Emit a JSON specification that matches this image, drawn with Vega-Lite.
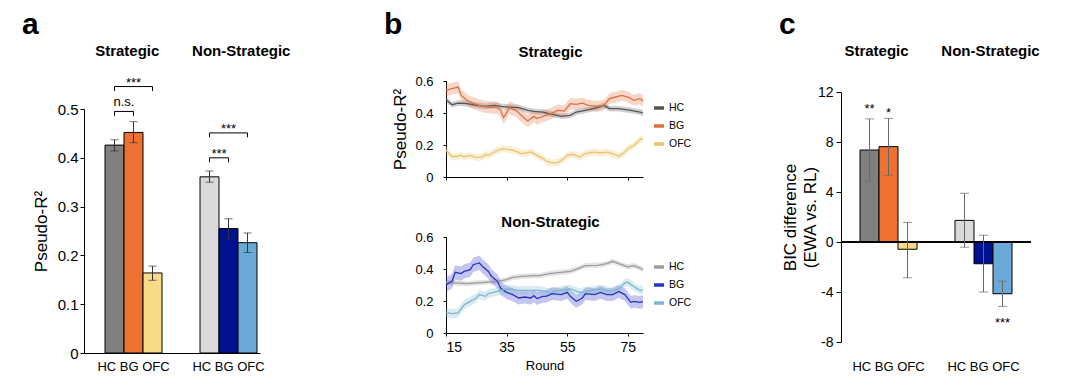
{
"$schema":"https://vega.github.io/schema/vega-lite/v6.json",
"autosize":{"type":"pad"},
"padding":{"left":22,"top":-1,"right":0,"bottom":0},
"background":"white",
"config":{
 "font":"Liberation Sans",
 "view":{"stroke":null},
 "axis":{"domainColor":"#000","tickColor":"#000","labelColor":"#000","titleColor":"#000","grid":false,"titleFontWeight":"normal","labelFont":"Liberation Sans","titleFont":"Liberation Sans","labelOverlap":false},
 "title":{"color":"#000","font":"Liberation Sans"},
 "legend":{"labelColor":"#000","labelFont":"Liberation Sans"},
 "text":{"font":"Liberation Sans","color":"#000"}
},
"datasets":{
 "barsA":[
  {"k":"S-HC","v":0.426,"lo":0.414,"hi":0.437},
  {"k":"S-BG","v":0.452,"lo":0.431,"hi":0.474},
  {"k":"S-OFC","v":0.164,"lo":0.149,"hi":0.178},
  {"k":"N-HC","v":0.361,"lo":0.350,"hi":0.373},
  {"k":"N-BG","v":0.255,"lo":0.234,"hi":0.275},
  {"k":"N-OFC","v":0.226,"lo":0.206,"hi":0.246}
 ],
 "barsC":[
  {"k":"S-HC","v":7.36,"lo":4.85,"hi":9.85},
  {"k":"S-BG","v":7.63,"lo":5.33,"hi":9.89},
  {"k":"S-OFC","v":-0.58,"lo":-2.86,"hi":1.57},
  {"k":"N-HC","v":1.73,"lo":-0.42,"hi":3.9},
  {"k":"N-BG","v":-1.74,"lo":-4.0,"hi":0.54},
  {"k":"N-OFC","v":-4.14,"lo":-5.15,"hi":-3.13}
 ],
 "bracketsA":[
  {"from":"S-HC","to":"S-OFC","top":0.546,"bot":0.537,"lab":"***","at":"S-BG","edge":false,"ly":0.546},
  {"from":"S-HC","to":"S-BG","top":0.495,"bot":0.486,"lab":"n.s.","at":"S-BG","edge":true,"ly":0.507},
  {"from":"N-HC","to":"N-OFC","top":0.451,"bot":0.442,"lab":"***","at":"N-BG","edge":false,"ly":0.451},
  {"from":"N-HC","to":"N-BG","top":0.400,"bot":0.391,"lab":"***","at":"N-BG","edge":true,"ly":0.400}
 ],
 "starsC":[
  {"k":"S-HC","lab":"**","ly":10.30},
  {"k":"S-BG","lab":"*","ly":9.98},
  {"k":"N-OFC","lab":"***","ly":-6.77}
 ],
 "headA":[{"at":"S-BG","lab":"Strategic"},{"at":"N-OFC","lab":"Non-Strategic"}],
 "headC":[{"at":"S-HC","lab":"Strategic"},{"at":"N-BG","lab":"Non-Strategic"}],
 "lines":[
  {"p":"S","s":"HC","r":15,"m":0.483,"lo":0.464,"hi":0.502},
  {"p":"S","s":"HC","r":17,"m":0.452,"lo":0.434,"hi":0.470},
  {"p":"S","s":"HC","r":19,"m":0.462,"lo":0.445,"hi":0.480},
  {"p":"S","s":"HC","r":22,"m":0.458,"lo":0.440,"hi":0.476},
  {"p":"S","s":"HC","r":25,"m":0.448,"lo":0.431,"hi":0.466},
  {"p":"S","s":"HC","r":28,"m":0.442,"lo":0.424,"hi":0.460},
  {"p":"S","s":"HC","r":31,"m":0.448,"lo":0.430,"hi":0.465},
  {"p":"S","s":"HC","r":33,"m":0.442,"lo":0.425,"hi":0.460},
  {"p":"S","s":"HC","r":36,"m":0.437,"lo":0.419,"hi":0.455},
  {"p":"S","s":"HC","r":39,"m":0.433,"lo":0.415,"hi":0.451},
  {"p":"S","s":"HC","r":42,"m":0.417,"lo":0.399,"hi":0.434},
  {"p":"S","s":"HC","r":44,"m":0.410,"lo":0.392,"hi":0.428},
  {"p":"S","s":"HC","r":47,"m":0.406,"lo":0.389,"hi":0.424},
  {"p":"S","s":"HC","r":49,"m":0.396,"lo":0.378,"hi":0.414},
  {"p":"S","s":"HC","r":53,"m":0.379,"lo":0.362,"hi":0.397},
  {"p":"S","s":"HC","r":56,"m":0.385,"lo":0.367,"hi":0.402},
  {"p":"S","s":"HC","r":58,"m":0.406,"lo":0.388,"hi":0.423},
  {"p":"S","s":"HC","r":61,"m":0.417,"lo":0.400,"hi":0.435},
  {"p":"S","s":"HC","r":65,"m":0.433,"lo":0.415,"hi":0.450},
  {"p":"S","s":"HC","r":67,"m":0.448,"lo":0.431,"hi":0.466},
  {"p":"S","s":"HC","r":69,"m":0.427,"lo":0.409,"hi":0.445},
  {"p":"S","s":"HC","r":72,"m":0.427,"lo":0.410,"hi":0.444},
  {"p":"S","s":"HC","r":76,"m":0.417,"lo":0.399,"hi":0.434},
  {"p":"S","s":"HC","r":79,"m":0.406,"lo":0.389,"hi":0.424},
  {"p":"S","s":"HC","r":80,"m":0.400,"lo":0.382,"hi":0.418},
  {"p":"S","s":"BG","r":15,"m":0.542,"lo":0.505,"hi":0.578},
  {"p":"S","s":"BG","r":17,"m":0.552,"lo":0.515,"hi":0.590},
  {"p":"S","s":"BG","r":19,"m":0.562,"lo":0.524,"hi":0.600},
  {"p":"S","s":"BG","r":20,"m":0.510,"lo":0.473,"hi":0.548},
  {"p":"S","s":"BG","r":22,"m":0.479,"lo":0.442,"hi":0.516},
  {"p":"S","s":"BG","r":23,"m":0.469,"lo":0.432,"hi":0.506},
  {"p":"S","s":"BG","r":25,"m":0.454,"lo":0.417,"hi":0.492},
  {"p":"S","s":"BG","r":27,"m":0.442,"lo":0.404,"hi":0.480},
  {"p":"S","s":"BG","r":29,"m":0.437,"lo":0.399,"hi":0.475},
  {"p":"S","s":"BG","r":32,"m":0.433,"lo":0.394,"hi":0.472},
  {"p":"S","s":"BG","r":33,"m":0.417,"lo":0.377,"hi":0.457},
  {"p":"S","s":"BG","r":34,"m":0.371,"lo":0.330,"hi":0.412},
  {"p":"S","s":"BG","r":36,"m":0.433,"lo":0.393,"hi":0.473},
  {"p":"S","s":"BG","r":38,"m":0.417,"lo":0.377,"hi":0.457},
  {"p":"S","s":"BG","r":39,"m":0.400,"lo":0.360,"hi":0.440},
  {"p":"S","s":"BG","r":41,"m":0.365,"lo":0.325,"hi":0.405},
  {"p":"S","s":"BG","r":42,"m":0.350,"lo":0.311,"hi":0.390},
  {"p":"S","s":"BG","r":44,"m":0.379,"lo":0.340,"hi":0.418},
  {"p":"S","s":"BG","r":45,"m":0.365,"lo":0.327,"hi":0.403},
  {"p":"S","s":"BG","r":47,"m":0.379,"lo":0.342,"hi":0.416},
  {"p":"S","s":"BG","r":48,"m":0.385,"lo":0.348,"hi":0.422},
  {"p":"S","s":"BG","r":50,"m":0.400,"lo":0.364,"hi":0.436},
  {"p":"S","s":"BG","r":52,"m":0.417,"lo":0.381,"hi":0.453},
  {"p":"S","s":"BG","r":54,"m":0.412,"lo":0.377,"hi":0.447},
  {"p":"S","s":"BG","r":56,"m":0.458,"lo":0.423,"hi":0.493},
  {"p":"S","s":"BG","r":58,"m":0.454,"lo":0.419,"hi":0.489},
  {"p":"S","s":"BG","r":60,"m":0.462,"lo":0.428,"hi":0.496},
  {"p":"S","s":"BG","r":62,"m":0.448,"lo":0.414,"hi":0.482},
  {"p":"S","s":"BG","r":65,"m":0.442,"lo":0.408,"hi":0.476},
  {"p":"S","s":"BG","r":67,"m":0.448,"lo":0.414,"hi":0.482},
  {"p":"S","s":"BG","r":69,"m":0.490,"lo":0.456,"hi":0.524},
  {"p":"S","s":"BG","r":71,"m":0.500,"lo":0.466,"hi":0.534},
  {"p":"S","s":"BG","r":73,"m":0.510,"lo":0.476,"hi":0.544},
  {"p":"S","s":"BG","r":75,"m":0.500,"lo":0.466,"hi":0.535},
  {"p":"S","s":"BG","r":77,"m":0.479,"lo":0.445,"hi":0.514},
  {"p":"S","s":"BG","r":79,"m":0.490,"lo":0.455,"hi":0.525},
  {"p":"S","s":"BG","r":80,"m":0.475,"lo":0.440,"hi":0.510},
  {"p":"S","s":"OFC","r":15,"m":0.170,"lo":0.147,"hi":0.193},
  {"p":"S","s":"OFC","r":17,"m":0.125,"lo":0.103,"hi":0.147},
  {"p":"S","s":"OFC","r":20,"m":0.135,"lo":0.113,"hi":0.157},
  {"p":"S","s":"OFC","r":21,"m":0.125,"lo":0.103,"hi":0.147},
  {"p":"S","s":"OFC","r":23,"m":0.135,"lo":0.113,"hi":0.157},
  {"p":"S","s":"OFC","r":25,"m":0.121,"lo":0.099,"hi":0.143},
  {"p":"S","s":"OFC","r":27,"m":0.125,"lo":0.103,"hi":0.147},
  {"p":"S","s":"OFC","r":28,"m":0.142,"lo":0.120,"hi":0.164},
  {"p":"S","s":"OFC","r":29,"m":0.135,"lo":0.113,"hi":0.157},
  {"p":"S","s":"OFC","r":32,"m":0.167,"lo":0.145,"hi":0.189},
  {"p":"S","s":"OFC","r":34,"m":0.177,"lo":0.155,"hi":0.199},
  {"p":"S","s":"OFC","r":36,"m":0.171,"lo":0.149,"hi":0.193},
  {"p":"S","s":"OFC","r":38,"m":0.162,"lo":0.140,"hi":0.184},
  {"p":"S","s":"OFC","r":40,"m":0.146,"lo":0.124,"hi":0.168},
  {"p":"S","s":"OFC","r":43,"m":0.156,"lo":0.134,"hi":0.178},
  {"p":"S","s":"OFC","r":45,"m":0.135,"lo":0.113,"hi":0.157},
  {"p":"S","s":"OFC","r":47,"m":0.115,"lo":0.093,"hi":0.137},
  {"p":"S","s":"OFC","r":48,"m":0.100,"lo":0.078,"hi":0.122},
  {"p":"S","s":"OFC","r":50,"m":0.088,"lo":0.066,"hi":0.110},
  {"p":"S","s":"OFC","r":52,"m":0.092,"lo":0.070,"hi":0.114},
  {"p":"S","s":"OFC","r":54,"m":0.115,"lo":0.093,"hi":0.137},
  {"p":"S","s":"OFC","r":55,"m":0.135,"lo":0.113,"hi":0.157},
  {"p":"S","s":"OFC","r":57,"m":0.142,"lo":0.120,"hi":0.164},
  {"p":"S","s":"OFC","r":59,"m":0.125,"lo":0.103,"hi":0.147},
  {"p":"S","s":"OFC","r":61,"m":0.146,"lo":0.124,"hi":0.168},
  {"p":"S","s":"OFC","r":64,"m":0.156,"lo":0.134,"hi":0.178},
  {"p":"S","s":"OFC","r":66,"m":0.150,"lo":0.128,"hi":0.172},
  {"p":"S","s":"OFC","r":68,"m":0.156,"lo":0.134,"hi":0.178},
  {"p":"S","s":"OFC","r":70,"m":0.146,"lo":0.124,"hi":0.168},
  {"p":"S","s":"OFC","r":72,"m":0.129,"lo":0.107,"hi":0.151},
  {"p":"S","s":"OFC","r":74,"m":0.156,"lo":0.134,"hi":0.178},
  {"p":"S","s":"OFC","r":75,"m":0.177,"lo":0.155,"hi":0.199},
  {"p":"S","s":"OFC","r":77,"m":0.198,"lo":0.176,"hi":0.220},
  {"p":"S","s":"OFC","r":79,"m":0.233,"lo":0.211,"hi":0.255},
  {"p":"S","s":"OFC","r":80,"m":0.240,"lo":0.218,"hi":0.262},
  {"p":"N","s":"HC","r":15,"m":0.317,"lo":0.301,"hi":0.333},
  {"p":"N","s":"HC","r":18,"m":0.313,"lo":0.297,"hi":0.329},
  {"p":"N","s":"HC","r":22,"m":0.308,"lo":0.292,"hi":0.324},
  {"p":"N","s":"HC","r":25,"m":0.313,"lo":0.297,"hi":0.329},
  {"p":"N","s":"HC","r":28,"m":0.317,"lo":0.301,"hi":0.333},
  {"p":"N","s":"HC","r":32,"m":0.323,"lo":0.307,"hi":0.339},
  {"p":"N","s":"HC","r":35,"m":0.333,"lo":0.317,"hi":0.349},
  {"p":"N","s":"HC","r":37,"m":0.348,"lo":0.332,"hi":0.364},
  {"p":"N","s":"HC","r":40,"m":0.354,"lo":0.338,"hi":0.370},
  {"p":"N","s":"HC","r":44,"m":0.358,"lo":0.342,"hi":0.374},
  {"p":"N","s":"HC","r":46,"m":0.358,"lo":0.342,"hi":0.374},
  {"p":"N","s":"HC","r":49,"m":0.371,"lo":0.355,"hi":0.387},
  {"p":"N","s":"HC","r":53,"m":0.379,"lo":0.363,"hi":0.395},
  {"p":"N","s":"HC","r":56,"m":0.385,"lo":0.369,"hi":0.401},
  {"p":"N","s":"HC","r":59,"m":0.406,"lo":0.390,"hi":0.422},
  {"p":"N","s":"HC","r":61,"m":0.421,"lo":0.405,"hi":0.437},
  {"p":"N","s":"HC","r":65,"m":0.423,"lo":0.407,"hi":0.439},
  {"p":"N","s":"HC","r":68,"m":0.433,"lo":0.417,"hi":0.449},
  {"p":"N","s":"HC","r":70,"m":0.448,"lo":0.432,"hi":0.464},
  {"p":"N","s":"HC","r":72,"m":0.433,"lo":0.417,"hi":0.449},
  {"p":"N","s":"HC","r":75,"m":0.413,"lo":0.397,"hi":0.429},
  {"p":"N","s":"HC","r":77,"m":0.421,"lo":0.405,"hi":0.437},
  {"p":"N","s":"HC","r":79,"m":0.406,"lo":0.390,"hi":0.422},
  {"p":"N","s":"HC","r":80,"m":0.396,"lo":0.380,"hi":0.412},
  {"p":"N","s":"BG","r":15,"m":0.302,"lo":0.257,"hi":0.347},
  {"p":"N","s":"BG","r":17,"m":0.323,"lo":0.278,"hi":0.368},
  {"p":"N","s":"BG","r":18,"m":0.379,"lo":0.334,"hi":0.424},
  {"p":"N","s":"BG","r":20,"m":0.371,"lo":0.326,"hi":0.416},
  {"p":"N","s":"BG","r":21,"m":0.385,"lo":0.340,"hi":0.430},
  {"p":"N","s":"BG","r":23,"m":0.396,"lo":0.351,"hi":0.441},
  {"p":"N","s":"BG","r":24,"m":0.427,"lo":0.382,"hi":0.472},
  {"p":"N","s":"BG","r":26,"m":0.438,"lo":0.393,"hi":0.483},
  {"p":"N","s":"BG","r":27,"m":0.417,"lo":0.372,"hi":0.462},
  {"p":"N","s":"BG","r":29,"m":0.385,"lo":0.340,"hi":0.430},
  {"p":"N","s":"BG","r":30,"m":0.354,"lo":0.309,"hi":0.399},
  {"p":"N","s":"BG","r":32,"m":0.323,"lo":0.279,"hi":0.367},
  {"p":"N","s":"BG","r":33,"m":0.281,"lo":0.238,"hi":0.324},
  {"p":"N","s":"BG","r":35,"m":0.254,"lo":0.212,"hi":0.296},
  {"p":"N","s":"BG","r":37,"m":0.240,"lo":0.198,"hi":0.282},
  {"p":"N","s":"BG","r":39,"m":0.219,"lo":0.178,"hi":0.260},
  {"p":"N","s":"BG","r":41,"m":0.225,"lo":0.184,"hi":0.266},
  {"p":"N","s":"BG","r":43,"m":0.219,"lo":0.178,"hi":0.260},
  {"p":"N","s":"BG","r":44,"m":0.233,"lo":0.192,"hi":0.274},
  {"p":"N","s":"BG","r":45,"m":0.215,"lo":0.175,"hi":0.255},
  {"p":"N","s":"BG","r":47,"m":0.229,"lo":0.189,"hi":0.269},
  {"p":"N","s":"BG","r":48,"m":0.229,"lo":0.189,"hi":0.269},
  {"p":"N","s":"BG","r":50,"m":0.246,"lo":0.206,"hi":0.286},
  {"p":"N","s":"BG","r":53,"m":0.240,"lo":0.200,"hi":0.280},
  {"p":"N","s":"BG","r":55,"m":0.254,"lo":0.214,"hi":0.294},
  {"p":"N","s":"BG","r":56,"m":0.229,"lo":0.189,"hi":0.269},
  {"p":"N","s":"BG","r":58,"m":0.198,"lo":0.158,"hi":0.238},
  {"p":"N","s":"BG","r":60,"m":0.219,"lo":0.179,"hi":0.259},
  {"p":"N","s":"BG","r":61,"m":0.246,"lo":0.206,"hi":0.286},
  {"p":"N","s":"BG","r":64,"m":0.240,"lo":0.200,"hi":0.280},
  {"p":"N","s":"BG","r":66,"m":0.254,"lo":0.214,"hi":0.294},
  {"p":"N","s":"BG","r":68,"m":0.240,"lo":0.200,"hi":0.280},
  {"p":"N","s":"BG","r":70,"m":0.240,"lo":0.200,"hi":0.280},
  {"p":"N","s":"BG","r":72,"m":0.260,"lo":0.220,"hi":0.300},
  {"p":"N","s":"BG","r":74,"m":0.240,"lo":0.200,"hi":0.280},
  {"p":"N","s":"BG","r":76,"m":0.192,"lo":0.152,"hi":0.232},
  {"p":"N","s":"BG","r":77,"m":0.198,"lo":0.158,"hi":0.238},
  {"p":"N","s":"BG","r":79,"m":0.192,"lo":0.152,"hi":0.232},
  {"p":"N","s":"BG","r":80,"m":0.196,"lo":0.156,"hi":0.236},
  {"p":"N","s":"OFC","r":15,"m":0.129,"lo":0.100,"hi":0.158},
  {"p":"N","s":"OFC","r":17,"m":0.121,"lo":0.092,"hi":0.150},
  {"p":"N","s":"OFC","r":19,"m":0.125,"lo":0.096,"hi":0.154},
  {"p":"N","s":"OFC","r":21,"m":0.177,"lo":0.148,"hi":0.206},
  {"p":"N","s":"OFC","r":23,"m":0.198,"lo":0.170,"hi":0.226},
  {"p":"N","s":"OFC","r":25,"m":0.219,"lo":0.191,"hi":0.247},
  {"p":"N","s":"OFC","r":26,"m":0.240,"lo":0.212,"hi":0.268},
  {"p":"N","s":"OFC","r":28,"m":0.229,"lo":0.201,"hi":0.257},
  {"p":"N","s":"OFC","r":29,"m":0.246,"lo":0.218,"hi":0.274},
  {"p":"N","s":"OFC","r":32,"m":0.260,"lo":0.234,"hi":0.286},
  {"p":"N","s":"OFC","r":34,"m":0.271,"lo":0.245,"hi":0.297},
  {"p":"N","s":"OFC","r":36,"m":0.275,"lo":0.249,"hi":0.301},
  {"p":"N","s":"OFC","r":39,"m":0.267,"lo":0.241,"hi":0.293},
  {"p":"N","s":"OFC","r":43,"m":0.267,"lo":0.241,"hi":0.293},
  {"p":"N","s":"OFC","r":46,"m":0.267,"lo":0.241,"hi":0.293},
  {"p":"N","s":"OFC","r":49,"m":0.254,"lo":0.228,"hi":0.280},
  {"p":"N","s":"OFC","r":53,"m":0.267,"lo":0.241,"hi":0.293},
  {"p":"N","s":"OFC","r":56,"m":0.275,"lo":0.249,"hi":0.301},
  {"p":"N","s":"OFC","r":59,"m":0.254,"lo":0.228,"hi":0.280},
  {"p":"N","s":"OFC","r":63,"m":0.267,"lo":0.241,"hi":0.293},
  {"p":"N","s":"OFC","r":66,"m":0.275,"lo":0.249,"hi":0.301},
  {"p":"N","s":"OFC","r":69,"m":0.260,"lo":0.234,"hi":0.286},
  {"p":"N","s":"OFC","r":72,"m":0.275,"lo":0.249,"hi":0.301},
  {"p":"N","s":"OFC","r":74,"m":0.313,"lo":0.287,"hi":0.339},
  {"p":"N","s":"OFC","r":75,"m":0.317,"lo":0.291,"hi":0.343},
  {"p":"N","s":"OFC","r":77,"m":0.290,"lo":0.264,"hi":0.316},
  {"p":"N","s":"OFC","r":79,"m":0.267,"lo":0.241,"hi":0.293},
  {"p":"N","s":"OFC","r":80,"m":0.270,"lo":0.244,"hi":0.296}
 ]
},
"bounds":"flush",
"spacing":362,
"resolve":{"scale":{"x":"independent","y":"independent","color":"independent"},"legend":{"color":"independent"}},
"hconcat":[
 {
  "bounds":"flush","spacing":0,
  "resolve":{"scale":{"x":"independent","y":"independent","color":"independent"},"legend":{"color":"independent"}},
  "vconcat":[
   {"width":176,"height":110,"data":{"values":[{"z":1}]},"mark":{"type":"rect","opacity":0},
    "title":{"text":"a","anchor":"start","frame":"group","dx":-62,"offset":-65,"fontSize":30,"fontWeight":"bold","baseline":"alphabetic"}},
   {"width":176,"height":244,
    "layer":[
     {"data":{"name":"barsA"},"mark":{"type":"bar","stroke":"#000","strokeWidth":1},
      "encoding":{
       "x":{"field":"k","type":"nominal","title":null,"scale":{"domain":["S-HC","S-BG","S-OFC","g1","g2","N-HC","N-BG","N-OFC"],"paddingInner":0,"paddingOuter":0.632,"align":0.875},
            "axis":{"values":["S-BG","N-BG"],"labelExpr":"'HC BG OFC'","ticks":false,"tickSize":0,"labelPadding":7,"labelFontSize":13,"labelAngle":0,"domain":true}},
       "y":{"field":"v","type":"quantitative","title":"Pseudo-R²","scale":{"domain":[0,0.5],"nice":false},
            "axis":{"values":[0,0.1,0.2,0.3,0.4,0.5],"labelExpr":"datum.value + ''","labelFontSize":15,"tickSize":4,"labelPadding":2,"titleFontSize":17,"titlePadding":7}},
       "color":{"field":"k","type":"nominal","scale":{"domain":["S-HC","S-BG","S-OFC","N-HC","N-BG","N-OFC"],"range":["#808080","#ED7131","#F9DA88","#D9D9D9","#00118F","#6AA9D5"]},"legend":null}}},
     {"data":{"name":"barsA"},"mark":{"type":"rule","color":"#333","strokeWidth":1},
      "encoding":{"x":{"field":"k","type":"nominal","title":null},"y":{"field":"lo","type":"quantitative","title":"Pseudo-R²"},"y2":{"field":"hi"}}},
     {"data":{"name":"barsA"},"mark":{"type":"tick","color":"#333","size":8,"thickness":1},
      "encoding":{"x":{"field":"k","type":"nominal","title":null},"y":{"field":"lo","type":"quantitative","title":"Pseudo-R²"}}},
     {"data":{"name":"barsA"},"mark":{"type":"tick","color":"#333","size":8,"thickness":1},
      "encoding":{"x":{"field":"k","type":"nominal","title":null},"y":{"field":"hi","type":"quantitative","title":"Pseudo-R²"}}},
     {"data":{"name":"bracketsA"},"mark":{"type":"rule","color":"#000","strokeWidth":1},
      "encoding":{"x":{"field":"from","type":"nominal","title":null,"bandPosition":0.5},"x2":{"field":"to","bandPosition":0.5},"y":{"field":"top","type":"quantitative","title":"Pseudo-R²"}}},
     {"data":{"name":"bracketsA"},"mark":{"type":"rule","color":"#000","strokeWidth":1},
      "encoding":{"x":{"field":"from","type":"nominal","title":null,"bandPosition":0.5},"y":{"field":"top","type":"quantitative","title":"Pseudo-R²"},"y2":{"field":"bot"}}},
     {"data":{"name":"bracketsA"},"mark":{"type":"rule","color":"#000","strokeWidth":1},
      "encoding":{"x":{"field":"to","type":"nominal","title":null,"bandPosition":0.5},"y":{"field":"top","type":"quantitative","title":"Pseudo-R²"},"y2":{"field":"bot"}}},
     {"data":{"name":"bracketsA"},"transform":[{"filter":"!datum.edge"}],"mark":{"type":"text","fontSize":13,"baseline":"alphabetic"},
      "encoding":{"x":{"field":"at","type":"nominal","title":null,"bandPosition":0.5},"y":{"field":"ly","type":"quantitative","title":"Pseudo-R²"},"text":{"field":"lab"}}},
     {"data":{"name":"bracketsA"},"transform":[{"filter":"datum.edge"}],"mark":{"type":"text","fontSize":13,"baseline":"alphabetic"},
      "encoding":{"x":{"field":"at","type":"nominal","title":null,"bandPosition":0},"y":{"field":"ly","type":"quantitative","title":"Pseudo-R²"},"text":{"field":"lab"}}},
     {"data":{"name":"headA"},"mark":{"type":"text","fontSize":15,"fontWeight":"bold","baseline":"alphabetic"},
      "encoding":{"x":{"field":"at","type":"nominal","title":null,"bandPosition":0.17},"y":{"datum":0.6086,"type":"quantitative"},"text":{"field":"lab"}}}
    ]}
  ]
 },
 {
  "bounds":"flush","spacing":395,
  "resolve":{"scale":{"x":"independent","y":"independent","color":"independent"},"legend":{"color":"independent"}},
  "hconcat":[
   {
    "bounds":"flush","spacing":60,
    "resolve":{"scale":{"x":"independent","y":"independent","color":"independent"},"legend":{"color":"independent"}},
    "vconcat":[
     {"width":197,"height":22,"data":{"values":[{"z":1}]},"mark":{"type":"rect","opacity":0},
      "title":{"text":"b","anchor":"start","frame":"group","dx":-62,"offset":-65,"fontSize":30,"fontWeight":"bold","baseline":"alphabetic"}},
     {"width":197,"height":96,
      "data":{"name":"lines"},
      "transform":[{"filter":"datum.p == 'S'"}],
      "title":{"text":"Strategic","anchor":"middle","frame":"group","dx":6,"offset":3,"fontSize":15,"fontWeight":"bold","baseline":"alphabetic"},
      "encoding":{
       "x":{"field":"r","type":"quantitative","title":null,"scale":{"domain":[15,80],"nice":false,"zero":false},"axis":{"values":[15,35,55,75],"labels":false,"tickSize":3}},
       "y":{"field":"m","type":"quantitative","title":"Pseudo-R²","scale":{"domain":[0,0.6],"nice":false},
            "axis":{"values":[0,0.2,0.4,0.6],"tickCount":4,"labelExpr":"datum.value + ''","labelFontSize":13,"tickSize":3,"labelPadding":10,"titleFontSize":17,"titlePadding":5,"labelOverlap":false}},
       "color":{"field":"s","type":"nominal","scale":{"domain":["HC","BG","OFC"],"range":["#555555","#E0703C","#EAC46C"]},
                "legend":{"orient":"none","legendX":206,"legendY":20,"title":null,"symbolType":"stroke","symbolStrokeWidth":3.5,"symbolSize":100,"labelFontSize":10.5,"rowPadding":4,"padding":0,"symbolOpacity":1,"labelOffset":3}}},
      "layer":[
       {"mark":{"type":"area","opacity":0.28},
        "encoding":{"y":{"field":"lo","type":"quantitative","title":"Pseudo-R²","scale":{"domain":[0,0.6],"nice":false},
                         "axis":{"values":[0,0.2,0.4,0.6],"tickCount":4,"labelExpr":"datum.value + ''","labelFontSize":13,"tickSize":3,"labelPadding":10,"titleFontSize":17,"titlePadding":5,"labelOverlap":false}},
                    "y2":{"field":"hi"}}},
       {"mark":{"type":"line","strokeWidth":1.3}}
      ]},
     {"width":197,"height":96,
      "data":{"name":"lines"},
      "transform":[{"filter":"datum.p == 'N'"}],
      "title":{"text":"Non-Strategic","anchor":"middle","frame":"group","dx":6,"offset":-11,"fontSize":15,"fontWeight":"bold","baseline":"alphabetic"},
      "encoding":{
       "x":{"field":"r","type":"quantitative","title":"Round","scale":{"domain":[15,80],"nice":false,"zero":false},"axis":{"values":[15,35,55,75],"labelFontSize":14,"tickSize":3,"labelPadding":4,"titleFontSize":13,"titlePadding":5}},
       "y":{"field":"m","type":"quantitative","title":null,"scale":{"domain":[0,0.6],"nice":false},
            "axis":{"values":[0,0.2,0.4,0.6],"tickCount":4,"labelExpr":"datum.value + ''","labelFontSize":13,"tickSize":3,"labelPadding":10,"labelOverlap":false}},
       "color":{"field":"s","type":"nominal","scale":{"domain":["HC","BG","OFC"],"range":["#9C9C9C","#2733C2","#7DB6CF"]},
                "legend":{"orient":"none","legendX":206,"legendY":23,"title":null,"symbolType":"stroke","symbolStrokeWidth":3.5,"symbolSize":100,"labelFontSize":10.5,"rowPadding":4,"padding":0,"symbolOpacity":1,"labelOffset":3}}},
      "layer":[
       {"mark":{"type":"area","opacity":0.28},
        "encoding":{"y":{"field":"lo","type":"quantitative","title":null,"scale":{"domain":[0,0.6],"nice":false},
                         "axis":{"values":[0,0.2,0.4,0.6],"tickCount":4,"labelExpr":"datum.value + ''","labelFontSize":13,"tickSize":3,"labelPadding":10,"labelOverlap":false}},
                    "y2":{"field":"hi"}}},
       {"mark":{"type":"line","strokeWidth":1.3}}
      ]}
    ]
   },
   {
    "bounds":"flush","spacing":0,
    "resolve":{"scale":{"x":"independent","y":"independent","color":"independent"},"legend":{"color":"independent"}},
    "vconcat":[
     {"width":190,"height":93,"data":{"values":[{"z":1}]},"mark":{"type":"rect","opacity":0},
      "title":{"text":"c","anchor":"start","frame":"group","dx":-62,"offset":-65,"fontSize":30,"fontWeight":"bold","baseline":"alphabetic"}},
     {"width":190,"height":250,
      "layer":[
       {"data":{"name":"barsC"},"mark":{"type":"bar","stroke":"#000","strokeWidth":1},
        "encoding":{
         "x":{"field":"k","type":"nominal","title":null,"scale":{"domain":["S-HC","S-BG","S-OFC","g1","g2","N-HC","N-BG","N-OFC"],"paddingInner":0,"paddingOuter":1,"align":0.5},
              "axis":{"values":["S-BG","N-BG"],"labelExpr":"'HC BG OFC'","ticks":false,"tickSize":0,"labelPadding":18,"labelFontSize":13,"labelAngle":0,"domain":false}},
         "y":{"field":"v","type":"quantitative","title":["BIC difference","(EWA vs. RL)"],"scale":{"domain":[-8,12],"nice":false,"zero":false},
              "axis":{"values":[-8,-4,0,4,8,12],"labelExpr":"datum.value + ''","labelFontSize":14,"tickSize":5,"labelPadding":3,"titleFontSize":17,"titlePadding":-2,"titleLineHeight":20}},
         "color":{"field":"k","type":"nominal","scale":{"domain":["S-HC","S-BG","S-OFC","N-HC","N-BG","N-OFC"],"range":["#808080","#ED7131","#F9DA88","#D9D9D9","#00118F","#6AA9D5"]},"legend":null}}},
       {"data":{"name":"barsC"},"mark":{"type":"rule","color":"#000","strokeWidth":1},
        "encoding":{"y":{"datum":0,"type":"quantitative"}}},
       {"data":{"name":"barsC"},"mark":{"type":"rule","color":"#666","strokeWidth":1},
        "encoding":{"x":{"field":"k","type":"nominal","title":null},"y":{"field":"lo","type":"quantitative","title":["BIC difference","(EWA vs. RL)"]},"y2":{"field":"hi"}}},
       {"data":{"name":"barsC"},"mark":{"type":"tick","color":"#666","size":9,"thickness":1},
        "encoding":{"x":{"field":"k","type":"nominal","title":null},"y":{"field":"lo","type":"quantitative","title":["BIC difference","(EWA vs. RL)"]}}},
       {"data":{"name":"barsC"},"mark":{"type":"tick","color":"#666","size":9,"thickness":1},
        "encoding":{"x":{"field":"k","type":"nominal","title":null},"y":{"field":"hi","type":"quantitative","title":["BIC difference","(EWA vs. RL)"]}}},
       {"data":{"name":"starsC"},"mark":{"type":"text","fontSize":13,"baseline":"alphabetic"},
        "encoding":{"x":{"field":"k","type":"nominal","title":null},"y":{"field":"ly","type":"quantitative","title":["BIC difference","(EWA vs. RL)"]},"text":{"field":"lab"}}},
       {"data":{"name":"headC"},"mark":{"type":"text","fontSize":15,"fontWeight":"bold","baseline":"alphabetic"},
        "encoding":{"x":{"field":"at","type":"nominal","title":null,"bandPosition":0.87},"y":{"datum":14.88,"type":"quantitative"},"text":{"field":"lab"}}}
      ]}
    ]
   }
  ]
 }
]
}
